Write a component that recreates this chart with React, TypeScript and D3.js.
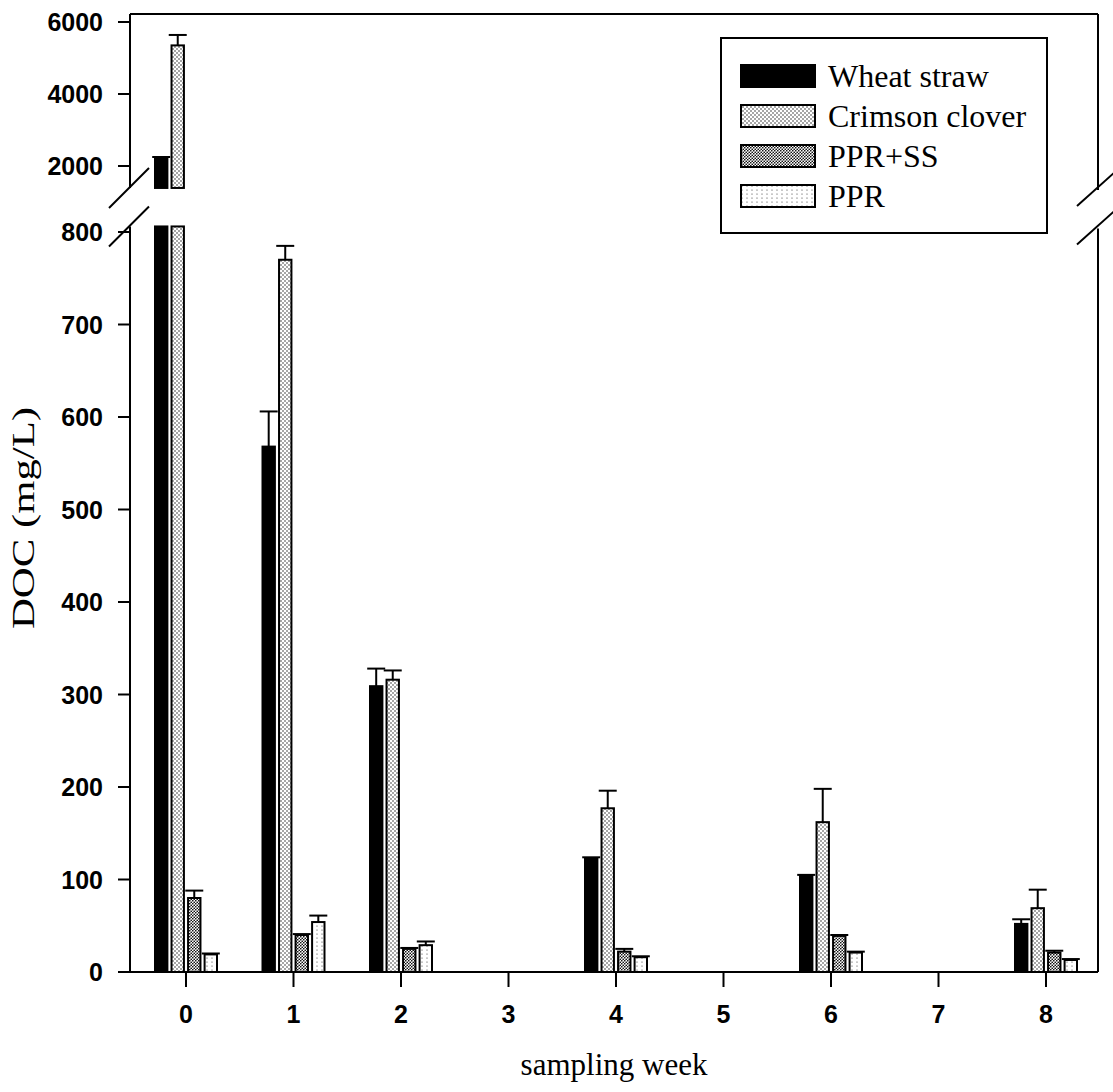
import React from "react";
import * as d3 from "d3";

const weeks = [0, 1, 2, 4, 6, 8];
const xTickValues = [0, 1, 2, 3, 4, 5, 6, 7, 8];
const yLowTicks = [0, 100, 200, 300, 400, 500, 600, 700, 800];
const yHighTicks = [2000, 4000, 6000];
const seriesNames = ["Wheat straw", "Crimson clover", "PPR+SS", "PPR"];

const wheatStraw = [2200, 568, 309, 123, 104, 52];
const wheatStrawErr = [50, 38, 19, 1, 1, 5];
const crimsonClover = [5350, 770, 316, 177, 162, 69];
const crimsonCloverErr = [290, 15, 10, 19, 36, 20];
const pprSS = [80, 40, 25, 22, 39, 21];
const pprSSErr = [8, 1, 1, 3, 1, 2];
const ppr = [19, 54, 29, 16, 21, 13];
const pprErr = [1, 7, 4, 1, 1, 1];

const seriesValues = [wheatStraw, crimsonClover, pprSS, ppr];
const seriesErrors = [wheatStrawErr, crimsonCloverErr, pprSSErr, pprErr];
const seriesFills = ["#000", "url(#pCrimson)", "url(#pPprSS)", "url(#pPpr)"];

export default function App() {
  const W = 1113, H = 1092;
  const x = d3.scaleLinear().domain([0, 8]).range([186, 1046]);
  const xLeft = 130, xRight = 1098;
  const yLow = d3.scaleLinear().domain([0, 800]).range([972, 232]);
  const yHigh = d3.scaleLinear().domain([2000, 6000]).range([166, 22]);
  const lowMax = 806, highMin = 1390, highMax = 6220;
  const inner = d3.scaleBand().domain(seriesNames).range([-31, 31]).paddingInner(0.25);
  const bw = inner.bandwidth();
  const capW = 18;
  const yTop = yHigh(highMax);
  const yBase = yLow(0);

  const yOf = (v: number) => (v > lowMax ? yHigh(v) : yLow(v));

  const bars: any[] = [];
  seriesNames.forEach((name, si) => {
    weeks.forEach((wk, wi) => {
      const v = seriesValues[si][wi];
      const e = seriesErrors[si][wi];
      const x0 = x(wk) + (inner(name) as number);
      const cx = x0 + bw / 2;
      const key = `${si}-${wi}`;
      if (v > lowMax) {
        bars.push(
          <rect key={key + "l"} x={x0} y={yLow(lowMax)} width={bw} height={yBase - yLow(lowMax)}
            fill={seriesFills[si]} stroke="#000" strokeWidth={2} />
        );
        bars.push(
          <rect key={key + "h"} x={x0} y={yHigh(v)} width={bw} height={yHigh(highMin) - yHigh(v)}
            fill={seriesFills[si]} stroke="#000" strokeWidth={2} />
        );
      } else {
        bars.push(
          <rect key={key} x={x0} y={yLow(v)} width={bw} height={yBase - yLow(v)}
            fill={seriesFills[si]} stroke="#000" strokeWidth={2} />
        );
      }
      const yt = yOf(v);
      const ye = yOf(v + e);
      bars.push(
        <g key={key + "e"} stroke="#000" strokeWidth={2}>
          <line x1={cx} x2={cx} y1={yt} y2={ye} />
          <line x1={cx - capW / 2} x2={cx + capW / 2} y1={ye} y2={ye} />
        </g>
      );
    });
  });

  const tickFont = { fontFamily: "'Liberation Sans', Arial, sans-serif", fontWeight: 700, fontSize: 25 };
  const serif = "'Liberation Serif', 'Times New Roman', serif";

  const legendX = 721, legendY = 38, legendW = 326, legendH = 195;
  const legendRows = d3.scaleLinear().domain([0, 3]).range([76, 196]);

  return (
    <svg width={W} height={H} style={{ position: "absolute", left: 0, top: 0, background: "#fff" }}>
      <defs>
        <pattern id="pCrimson" patternUnits="userSpaceOnUse" width={4} height={4}>
          <rect width={4} height={4} fill="#fff" />
          <circle cx={1} cy={1} r={0.75} fill="#222" />
          <circle cx={3} cy={3} r={0.75} fill="#222" />
        </pattern>
        <pattern id="pPprSS" patternUnits="userSpaceOnUse" width={3} height={3}>
          <rect width={3} height={3} fill="#fff" />
          <circle cx={0.75} cy={0.75} r={0.85} fill="#111" />
          <circle cx={2.25} cy={2.25} r={0.85} fill="#111" />
        </pattern>
        <pattern id="pPpr" patternUnits="userSpaceOnUse" width={5} height={4}>
          <rect width={5} height={4} fill="#fff" />
          <circle cx={2} cy={2} r={0.6} fill="#333" />
        </pattern>
      </defs>

      {/* bars */}
      {bars}

      {/* frame */}
      <g stroke="#000" strokeWidth={2} fill="none">
        <line x1={xLeft} x2={xRight} y1={yTop} y2={yTop} />
        <line x1={xLeft} x2={xRight} y1={yBase} y2={yBase} />
        <line x1={xLeft} x2={xLeft} y1={yTop} y2={yHigh(highMin)} />
        <line x1={xLeft} x2={xLeft} y1={yLow(lowMax)} y2={yBase} />
        <line x1={xRight} x2={xRight} y1={yTop} y2={yHigh(highMin) + 2} />
        <line x1={xRight} x2={xRight} y1={yLow(lowMax) + 2} y2={yBase} />
        {/* break marks */}
        <line x1={xLeft - 21} x2={xLeft + 19} y1={yHigh(highMin) + 20} y2={yHigh(highMin) - 20} />
        <line x1={xLeft - 21} x2={xLeft + 19} y1={yLow(lowMax) + 20} y2={yLow(lowMax) - 20} />
        <line x1={xRight - 21} x2={xRight + 17} y1={yHigh(highMin) + 18} y2={yHigh(highMin) - 16} />
        <line x1={xRight - 21} x2={xRight + 17} y1={yLow(lowMax) + 18} y2={yLow(lowMax) - 16} />
      </g>

      {/* y ticks lower */}
      {yLowTicks.map((t) => (
        <g key={"yl" + t}>
          <line x1={xLeft - 12} x2={xLeft} y1={yLow(t)} y2={yLow(t)} stroke="#000" strokeWidth={2} />
          <text x={103} y={yLow(t)} dy="0.36em" textAnchor="end" {...tickFont}>{t}</text>
        </g>
      ))}
      {yHighTicks.map((t) => (
        <g key={"yh" + t}>
          <line x1={xLeft - 12} x2={xLeft} y1={yHigh(t)} y2={yHigh(t)} stroke="#000" strokeWidth={2} />
          <text x={103} y={yHigh(t)} dy="0.36em" textAnchor="end" {...tickFont}>{t}</text>
        </g>
      ))}

      {/* x ticks */}
      {xTickValues.map((t) => (
        <g key={"x" + t}>
          <line x1={x(t)} x2={x(t)} y1={yBase} y2={yBase + 15} stroke="#000" strokeWidth={2} />
          <text x={x(t)} y={1023} textAnchor="middle" {...tickFont}>{t}</text>
        </g>
      ))}

      {/* axis titles */}
      <text x={(xLeft + xRight) / 2} y={1075} textAnchor="middle" fontFamily={serif} fontSize={31}>sampling week</text>
      <text transform="translate(34,518) rotate(-90) scale(1.38,1)" textAnchor="middle" fontFamily={serif} fontSize={31}>DOC (mg/L)</text>

      {/* legend */}
      <rect x={legendX} y={legendY} width={legendW} height={legendH} fill="#fff" stroke="#000" strokeWidth={2} />
      {seriesNames.map((name, i) => (
        <g key={"lg" + i}>
          <rect x={741} y={legendRows(i) - 11} width={74} height={22} fill={seriesFills[i]} stroke="#000" strokeWidth={2} />
          <text x={828} y={legendRows(i) + 11} fontFamily={serif} fontSize={32}>{name}</text>
        </g>
      ))}
    </svg>
  );
}
